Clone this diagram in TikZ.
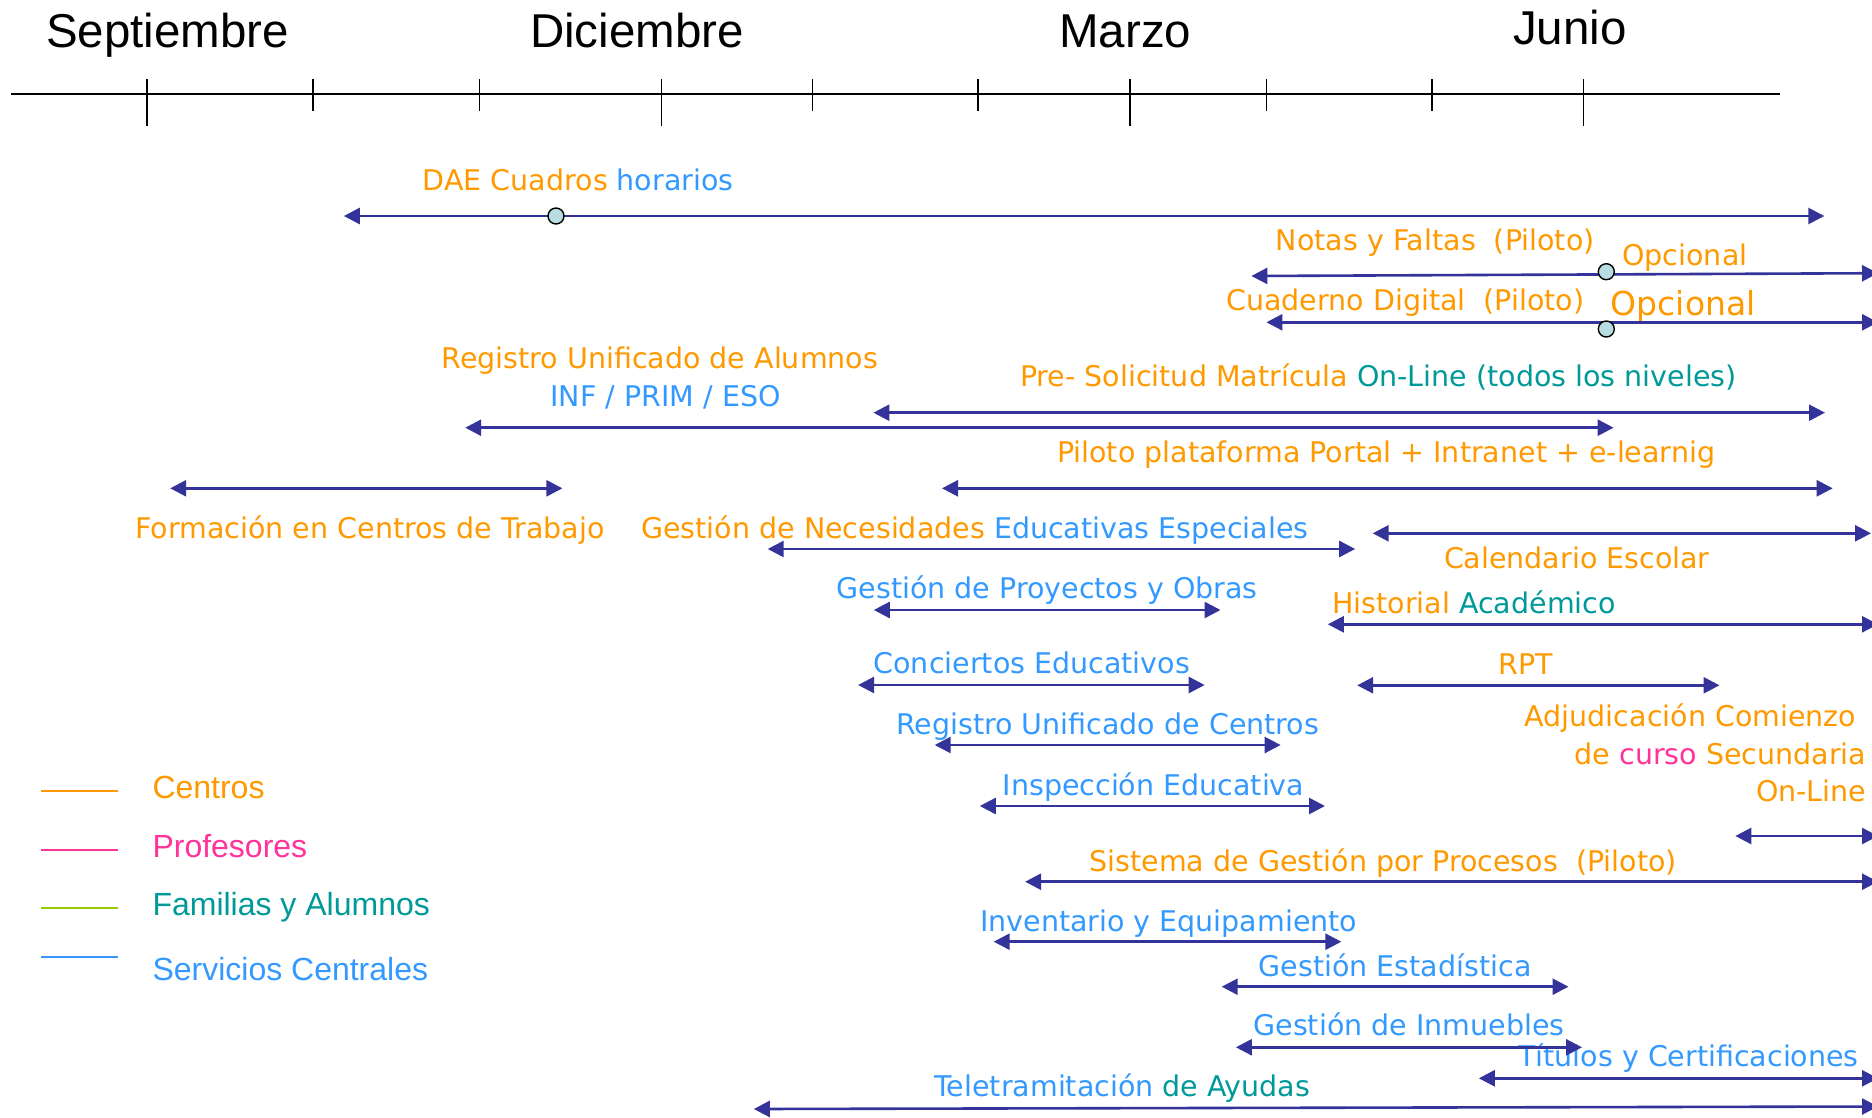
\documentclass[tikz,border=0pt]{standalone}
\usepackage{fontspec}
\setmainfont{DejaVu Sans}
\newfontfamily\arialf{Liberation Sans}
\usetikzlibrary{arrows.meta}
\definecolor{corange}{HTML}{FF9900}
\definecolor{cblue}{HTML}{3399FF}
\definecolor{cteal}{HTML}{009999}
\definecolor{cpink}{HTML}{FF3399}
\definecolor{cgreen}{HTML}{99CC00}
\definecolor{carrow}{HTML}{333399}
\definecolor{cdot}{HTML}{B7DDE0}
\tikzset{
 lbl/.style={inner sep=0pt, font=\fontsize{28.5}{34}\selectfont, anchor=base},
 month/.style={inner sep=0pt, font=\arialf\fontsize{47.5}{56}\selectfont, anchor=base},
 leg/.style={inner sep=0pt, font=\arialf\fontsize{32}{38}\selectfont, anchor=base west},
 spanarrow/.style={draw=carrow, line width=2.6pt, {Triangle[length=16pt,width=16pt]}-{Triangle[length=16pt,width=16pt]}},
 milestone/.style={circle, draw=black, line width=1.4pt, fill=cdot, inner sep=0pt, minimum size=16pt},
 tickline/.style={draw=black, line width=1.5pt},
 legline/.style={line width=1.8pt},
}
\begin{document}
\begin{tikzpicture}[x=1pt,y=-1pt]
\useasboundingbox (0,0) rectangle (1872,1117);
\clip (0,0) rectangle (1872,1117);
% months
\node[month] (m1) at (167.7,47) {Septiembre};
\node[month] (m2) at (637,47) {Diciembre};
\node[month] (m3) at (1125.3,47) {Marzo};
\node[month] (m4) at (1569.9,44.5) {Junio};
% axis
\coordinate (axl) at (10.7,94.3);
\coordinate (axr) at (1780,94.3);
\draw[line width=2pt] (axl) -- (axr);
\foreach \x in {146.9,661.3,1130,1583.6} \draw[tickline] (\x,79) -- (\x,126);
\foreach \x in {312.9,479.6,812.3,978.1,1266.4,1432.2} \draw[tickline] (\x,79) -- (\x,111);
% labels
\node[lbl,text=corange] (t1) at (578.2,190.7) {DAE Cuadros \textcolor{cblue}{horarios}};
\node[lbl,text=corange] (t2) at (1435.3,250.7) {Notas y Faltas\ \ (Piloto)};
\node[lbl,text=corange,anchor=base west] (t2b) at (1622.2,265) {Opcional};
\node[lbl,text=corange] (t3) at (1405.4,310.7) {Cuaderno Digital\ \ (Piloto)};
\node[lbl,text=corange,anchor=base west,font=\fontsize{33}{40}\selectfont] (t3b) at (1610.6,315) {Opcional};
\node[lbl,text=corange] (t4) at (659.9,368.3) {Registro Unificado de Alumnos};
\node[lbl,text=cblue] (t4b) at (665.5,406) {INF / PRIM / ESO};
\node[lbl,text=corange] (t5) at (1378.4,386.7) {Pre- Solicitud Matrícula \textcolor{cteal}{On-Line (todos los niveles)}};
\node[lbl,text=corange] (t6) at (1386.1,462.3) {Piloto plataforma Portal + Intranet + e-learnig};
\node[lbl,text=corange] (t7) at (370.1,538.3) {Formación en Centros de Trabajo};
\node[lbl,text=corange] (t8) at (974.9,538.3) {Gestión de Necesidades \textcolor{cblue}{Educativas Especiales}};
\node[lbl,text=corange] (t9) at (1576.8,568.3) {Calendario Escolar};
\node[lbl,text=cblue] (t10) at (1047.2,598.3) {Gestión de Proyectos y Obras};
\node[lbl,text=corange] (t11) at (1474.1,613.3) {Historial \textcolor{cteal}{Académico}};
\node[lbl,text=cblue] (t12) at (1031.8,673.3) {Conciertos Educativos};
\node[lbl,text=corange] (t13) at (1526,674) {RPT};
\node[lbl,text=cblue] (t14) at (1107.7,734) {Registro Unificado de Centros};
\node[lbl,text=cblue] (t15) at (1153.5,795) {Inspección Educativa};
\node[lbl,text=corange,anchor=base east] (t16) at (1856.3,726.7) {Adjudicación Comienzo};
\node[lbl,text=corange,anchor=base east] (t16b) at (1866.5,764) {de \textcolor{cpink}{curso} Secundaria};
\node[lbl,text=corange,anchor=base east] (t16c) at (1866.5,801.7) {On-Line};
\node[lbl,text=corange] (t17) at (1383.2,871.7) {Sistema de Gestión por Procesos\ \ (Piloto)};
\node[lbl,text=cblue] (t18) at (1168.7,931.7) {Inventario y Equipamiento};
\node[lbl,text=cblue] (t19) at (1395.1,976) {Gestión Estadística};
\node[lbl,text=cblue] (t20) at (1409,1035) {Gestión de Inmuebles};
\node[lbl,text=cblue] (t21) at (1688.5,1066.7) {Títulos y Certificaciones};
\node[lbl,text=cblue] (t22) at (1122.3,1096.7) {Teletramitación \textcolor{cteal}{de Ayudas}};
% arrow end points
\coordinate (a1l) at (343.8,216);    \coordinate (a1r) at (1824.3,216);
\coordinate (a2l) at (1251.4,276);   \coordinate (a2r) at (1878,273.2);
\coordinate (a3l) at (1266.4,322.3); \coordinate (a3r) at (1878,322.3);
\coordinate (a4l) at (465.2,427.7);  \coordinate (a4r) at (1613.6,427.7);
\coordinate (a5l) at (873.4,412.7);  \coordinate (a5r) at (1825,412.7);
\coordinate (a6l) at (942,488.3);    \coordinate (a6r) at (1832.7,488.3);
\coordinate (a7l) at (170.2,488.3);  \coordinate (a7r) at (562.4,488.3);
\coordinate (a8l) at (767.7,549);    \coordinate (a8r) at (1355.2,549);
\coordinate (a9l) at (1372.7,533.3); \coordinate (a9r) at (1871,533.3);
\coordinate (a10l) at (873.8,610);   \coordinate (a10r) at (1220.5,610);
\coordinate (a11l) at (1327.8,624.3);\coordinate (a11r) at (1878,624.3);
\coordinate (a12l) at (858.1,685);   \coordinate (a12r) at (1204.7,685);
\coordinate (a13l) at (1357.2,685.3);\coordinate (a13r) at (1719.5,685.3);
\coordinate (a14l) at (934.7,745);   \coordinate (a14r) at (1280.6,745);
\coordinate (a15l) at (979.8,806);   \coordinate (a15r) at (1325,806);
\coordinate (a16l) at (1735.3,836);  \coordinate (a16r) at (1878,836);
\coordinate (a17l) at (1025.1,881.7);\coordinate (a17r) at (1878,881.7);
\coordinate (a18l) at (993.7,941.7); \coordinate (a18r) at (1341.3,941.7);
\coordinate (a19l) at (1221.7,986.7);\coordinate (a19r) at (1568.5,986.7);
\coordinate (a20l) at (1235.9,1047.3);\coordinate (a20r) at (1582,1047.3);
\coordinate (a21l) at (1478.8,1078.3);\coordinate (a21r) at (1878,1078.3);
\coordinate (a22l) at (753.8,1109);  \coordinate (a22r) at (1878,1106.5);
\foreach \i in {1,...,22} \draw[spanarrow] (a\i l) -- (a\i r);
% milestones
\node[milestone] (c1) at (556,216) {};
\node[milestone] (c2) at (1606.3,271.7) {};
\node[milestone] (c3) at (1606.3,329) {};
% legend
\draw[legline,corange] (40.7,791.3) -- (117.7,791.3);
\draw[legline,cpink] (40.7,850) -- (117.7,850);
\draw[legline,cgreen] (40.7,908.3) -- (117.7,908.3);
\draw[legline,cblue] (40.7,957.3) -- (117.7,957.3);
\node[leg,text=corange] (l1) at (152.3,798.3) {Centros};
\node[leg,text=cpink] (l2) at (152.3,857.3) {Profesores};
\node[leg,text=cteal] (l3) at (152.3,915.7) {Familias y Alumnos};
\node[leg,text=cblue] (l4) at (152.3,980) {Servicios Centrales};
\end{tikzpicture}
\end{document}
